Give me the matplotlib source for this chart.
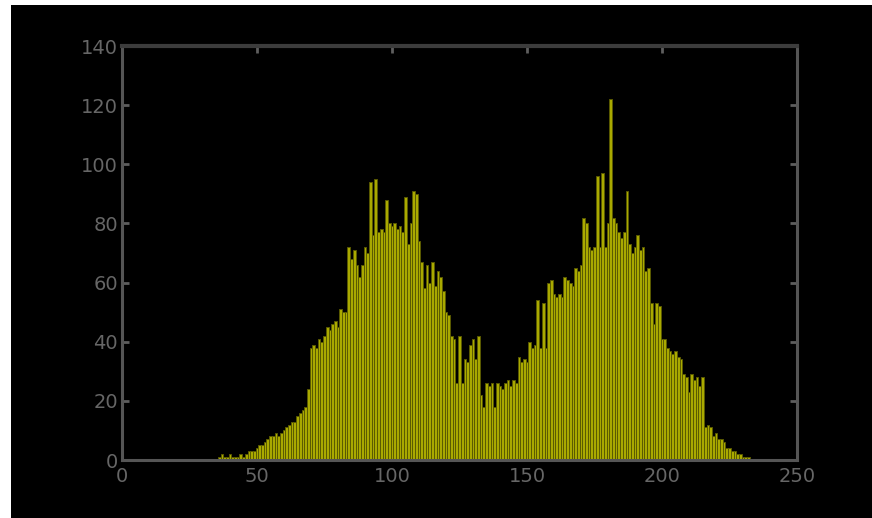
import matplotlib
matplotlib.use("Agg")
import matplotlib.pyplot as plt
from matplotlib.patches import Rectangle
import numpy as np

# Histogram data (intensity level -> count), first level below
first_level = 36
counts = [
    1, 2, 1, 1, 2, 1, 1, 1, 2, 1,            # 36-45
    2, 3, 3, 3, 4, 5, 5, 6, 7, 8,            # 46-55
    8, 9, 8, 9, 10, 11, 12, 13, 13, 15,      # 56-65
    16, 17, 18, 24, 38, 39, 38, 41, 40, 42,  # 66-75
    45, 44, 46, 47, 45, 51, 50, 50, 72, 68,  # 76-85
    71, 66, 62, 66, 72, 70, 94, 76, 95, 77,  # 86-95
    78, 77, 88, 80, 79, 80, 78, 79, 77, 89,  # 96-105
    73, 80, 91, 90, 74, 67, 58, 66, 60, 67,  # 106-115
    59, 64, 62, 57, 50, 49, 42, 41, 26, 42,  # 116-125
    26, 34, 33, 39, 41, 34, 42, 22, 18, 26,  # 126-135
    25, 26, 18, 26, 25, 24, 26, 27, 25, 27,  # 136-145
    26, 35, 33, 34, 33, 40, 38, 39, 54, 38,  # 146-155
    53, 38, 60, 61, 56, 55, 56, 55, 62, 61,  # 156-165
    60, 59, 65, 64, 66, 82, 80, 72, 71, 72,  # 166-175
    96, 72, 97, 72, 80, 122, 82, 80, 77, 75, # 176-185
    77, 91, 73, 70, 72, 76, 71, 72, 64, 65,  # 186-195
    53, 46, 53, 52, 41, 41, 38, 37, 36, 37,  # 196-205
    35, 34, 29, 28, 23, 29, 27, 28, 25, 28,  # 206-215
    11, 12, 11, 8, 9, 7, 7, 6, 4, 4,         # 216-225
    3, 3, 2, 2, 1, 1, 1,                     # 226-232
]
x_ticks = [0, 50, 100, 150, 200, 250]
y_ticks = [0, 20, 40, 60, 80, 100, 120, 140]

levels = first_level + np.arange(len(counts))

W, H = 872, 518
fig = plt.figure(figsize=(W / 100, H / 100), dpi=100)
fig.patch.set_facecolor("black")
# white margin strips on the left and top
fig.patches.append(Rectangle((0, 0), 11 / W, 1, transform=fig.transFigure,
                             facecolor="white", edgecolor="none"))
fig.patches.append(Rectangle((0, 1 - 5 / H), 1, 5 / H, transform=fig.transFigure,
                             facecolor="white", edgecolor="none"))

ax = fig.add_axes([122 / W, 1 - 460 / H, (797 - 122) / W, (460 - 46) / H])
ax.set_facecolor("black")
ax.bar(levels, counts, width=1.0, color="#a9a900", edgecolor="#5a5a00",
       linewidth=0.7, zorder=2)

ax.set_xlim(0, 250)
ax.set_ylim(0, 140)
ax.set_xticks(x_ticks)
ax.set_yticks(y_ticks)
gray = "#555555"
for s in ax.spines.values():
    s.set_color(gray)
    s.set_linewidth(2.2)
ax.spines["top"].set_color("#3c3c3c")
ax.spines["top"].set_linewidth(3)
ax.tick_params(axis="both", direction="in", colors="#5e5e5e",
               labelcolor="#666666", length=5, width=2, labelsize=14,
               top=True, right=True)
ax.tick_params(axis="x", pad=5)
ax.tick_params(axis="y", pad=3)

fig.savefig("out.png", dpi=100, facecolor=fig.get_facecolor())
